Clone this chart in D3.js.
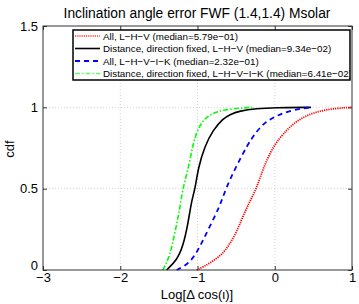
<!DOCTYPE html>
<html>
<head>
<meta charset="utf-8">
<script src="https://cdn.jsdelivr.net/npm/d3@7"></script>
<style>
  body { margin: 0; background: #fff; }
  text { font-family: "Liberation Sans", Arial, sans-serif; }
</style>
</head>
<body>
<svg id="chart" width="359" height="304"></svg>
<script>
const svg = d3.select("#chart");
const width = 359;
const height = 304;

// axis ticks
const xTicks = [-3, -2, -1, 0, 1];
const yTicks = [0, 0.5, 1, 1.5];

// curves (x = log10 error, y = cdf)
const redX = [-1.01, -0.84, -0.67, -0.584, -0.5, -0.412, -0.325, -0.237, -0.154, -0.025, 0.148, 0.32, 0.536, 0.794, 1.0];
const redY = [0, 0.04, 0.10, 0.16, 0.226, 0.33, 0.42, 0.5, 0.62, 0.76, 0.86, 0.93, 0.974, 0.995, 1.0];

const blackX = [-1.40, -1.27, -1.19, -1.12, -1.08, -1.03, -0.99, -0.907, -0.80, -0.67, -0.584, -0.455, -0.24, 0.0, 0.47];
const blackY = [0, 0.06, 0.14, 0.29, 0.42, 0.5, 0.63, 0.76, 0.86, 0.93, 0.955, 0.978, 0.993, 0.998, 1.0];

const blueX = [-1.27, -1.10, -0.97, -0.84, -0.713, -0.634, -0.5, -0.35, -0.283, -0.154, 0.02, 0.234, 0.47];
const blueY = [0, 0.04, 0.14, 0.27, 0.39, 0.5, 0.637, 0.77, 0.82, 0.90, 0.95, 0.985, 1.0];

const greenX = [-1.45, -1.36, -1.295, -1.23, -1.193, -1.11, -1.06, -0.97, -0.84, -0.63, -0.29];
const greenY = [0, 0.08, 0.226, 0.37, 0.5, 0.637, 0.78, 0.9, 0.96, 0.99, 1.0];

const labels = [
  "All, L\u2212H\u2212V (median=5.79e\u221201)",
  "Distance, direction fixed, L\u2212H\u2212V (median=9.34e\u221202)",
  "All, L\u2212H\u2212V\u2212I\u2212K (median=2.32e\u221201)",
  "Distance, direction fixed, L\u2212H\u2212V\u2212I\u2212K (median=6.41e\u221202)"
];

const series = [
  { xs: redX, ys: redY, color: "#ff0000", dash: "1.2,1", width: 1.8 },
  { xs: blackX, ys: blackY, color: "#000000", dash: null, width: 1.6 },
  { xs: blueX, ys: blueY, color: "#0000ff", dash: "5,4", width: 1.8 },
  { xs: greenX, ys: greenY, color: "#00ff00", dash: "5,2,1.5,2", width: 1.6 }
];

const margin = { left: 43, right: 7, top: 26, bottom: 34 };
const x = d3.scaleLinear().domain([-3, 1]).range([margin.left, width - margin.right]);
const y = d3.scaleLinear().domain([0, 1.5]).range([height - margin.bottom, margin.top]);

// grid
const grid = svg.append("g").attr("stroke", "#c8c8c8").attr("stroke-dasharray", "1,2").attr("stroke-width", 0.8);
xTicks.slice(1, -1).forEach(t => {
  grid.append("line").attr("x1", x(t)).attr("x2", x(t)).attr("y1", y(0)).attr("y2", y(1.5));
});
yTicks.slice(1, -1).forEach(t => {
  grid.append("line").attr("x1", x(-3)).attr("x2", x(1)).attr("y1", y(t)).attr("y2", y(t));
});

// axes (ticks pointing inwards like matlab)
svg.append("g")
  .attr("transform", `translate(0,${y(0)})`)
  .call(d3.axisBottom(x).tickValues(xTicks).tickSize(-4).tickPadding(3).tickFormat(d => d3.format("d")(d).replace("-", "\u2212")))
  .call(g => g.select(".domain").remove());
svg.append("g")
  .attr("transform", `translate(${x(-3)},0)`)
  .call(d3.axisLeft(y).tickValues(yTicks).tickSize(-4).tickPadding(5).tickFormat(d => String(d)))
  .call(g => g.select(".domain").remove())
  .call(g => g.selectAll(".tick text").filter(d => d === 0).attr("dy", "-0.05em"));
svg.append("g")
  .attr("transform", `translate(0,${y(1.5)})`)
  .call(d3.axisTop(x).tickValues(xTicks).tickSize(-4).tickFormat(""))
  .call(g => g.select(".domain").remove());
svg.append("g")
  .attr("transform", `translate(${x(1)},0)`)
  .call(d3.axisRight(y).tickValues(yTicks).tickSize(-4).tickFormat(""))
  .call(g => g.select(".domain").remove());
svg.selectAll(".tick text").attr("font-size", 13).attr("fill", "#000").attr("font-family", "Liberation Sans, Arial, sans-serif");
svg.selectAll(".tick line").attr("stroke", "#333");

// curves
const line = d3.line().x(d => x(d[0])).y(d => y(d[1])).curve(d3.curveBasis);
series.forEach(s => {
  const pts = s.xs.map((v, i) => [v, s.ys[i]]);
  svg.append("path")
    .attr("d", line(pts))
    .attr("fill", "none")
    .attr("stroke", s.color)
    .attr("stroke-width", s.width)
    .attr("stroke-dasharray", s.dash);
});

// frame
svg.append("rect")
  .attr("x", x(-3)).attr("y", y(1.5))
  .attr("width", x(1) - x(-3)).attr("height", y(0) - y(1.5))
  .attr("fill", "none").attr("stroke", "#333").attr("stroke-width", 1);

// legend
const lg = svg.append("g");
const lx = 73, ly = 30, lw = 277, lh = 50;
lg.append("clipPath").attr("id", "lclip").append("rect").attr("x", lx).attr("y", ly).attr("width", lw).attr("height", lh);
lg.append("rect").attr("x", lx).attr("y", ly).attr("width", lw).attr("height", lh)
  .attr("fill", "#fff").attr("stroke", "#000").attr("stroke-width", 1.5);
const items = lg.append("g").attr("clip-path", "url(#lclip)");
labels.forEach((lab, i) => {
  const cy = 36 + i * 12.5;
  const s = series[i];
  items.append("line").attr("x1", 75).attr("x2", 100).attr("y1", cy).attr("y2", cy)
    .attr("stroke", s.color).attr("stroke-width", s.width).attr("stroke-dasharray", s.dash)
    .attr("opacity", i === 0 || i === 3 ? 0.6 : 1);
  items.append("text").attr("x", 103).attr("y", cy + 3.6).attr("font-size", 9.8).text(lab);
});

// titles
svg.append("text").attr("x", 197).attr("y", 17.5).attr("text-anchor", "middle")
  .attr("font-size", 13.8).text("Inclination angle error FWF (1.4,1.4) Msolar");
svg.append("text").attr("x", 197).attr("y", 299).attr("text-anchor", "middle")
  .attr("font-size", 13).text("Log[\u0394 cos(\u03b9)]");
svg.append("text").attr("transform", "translate(14,149) rotate(-90)").attr("text-anchor", "middle")
  .attr("font-size", 13).text("cdf");
</script>
</body>
</html>
